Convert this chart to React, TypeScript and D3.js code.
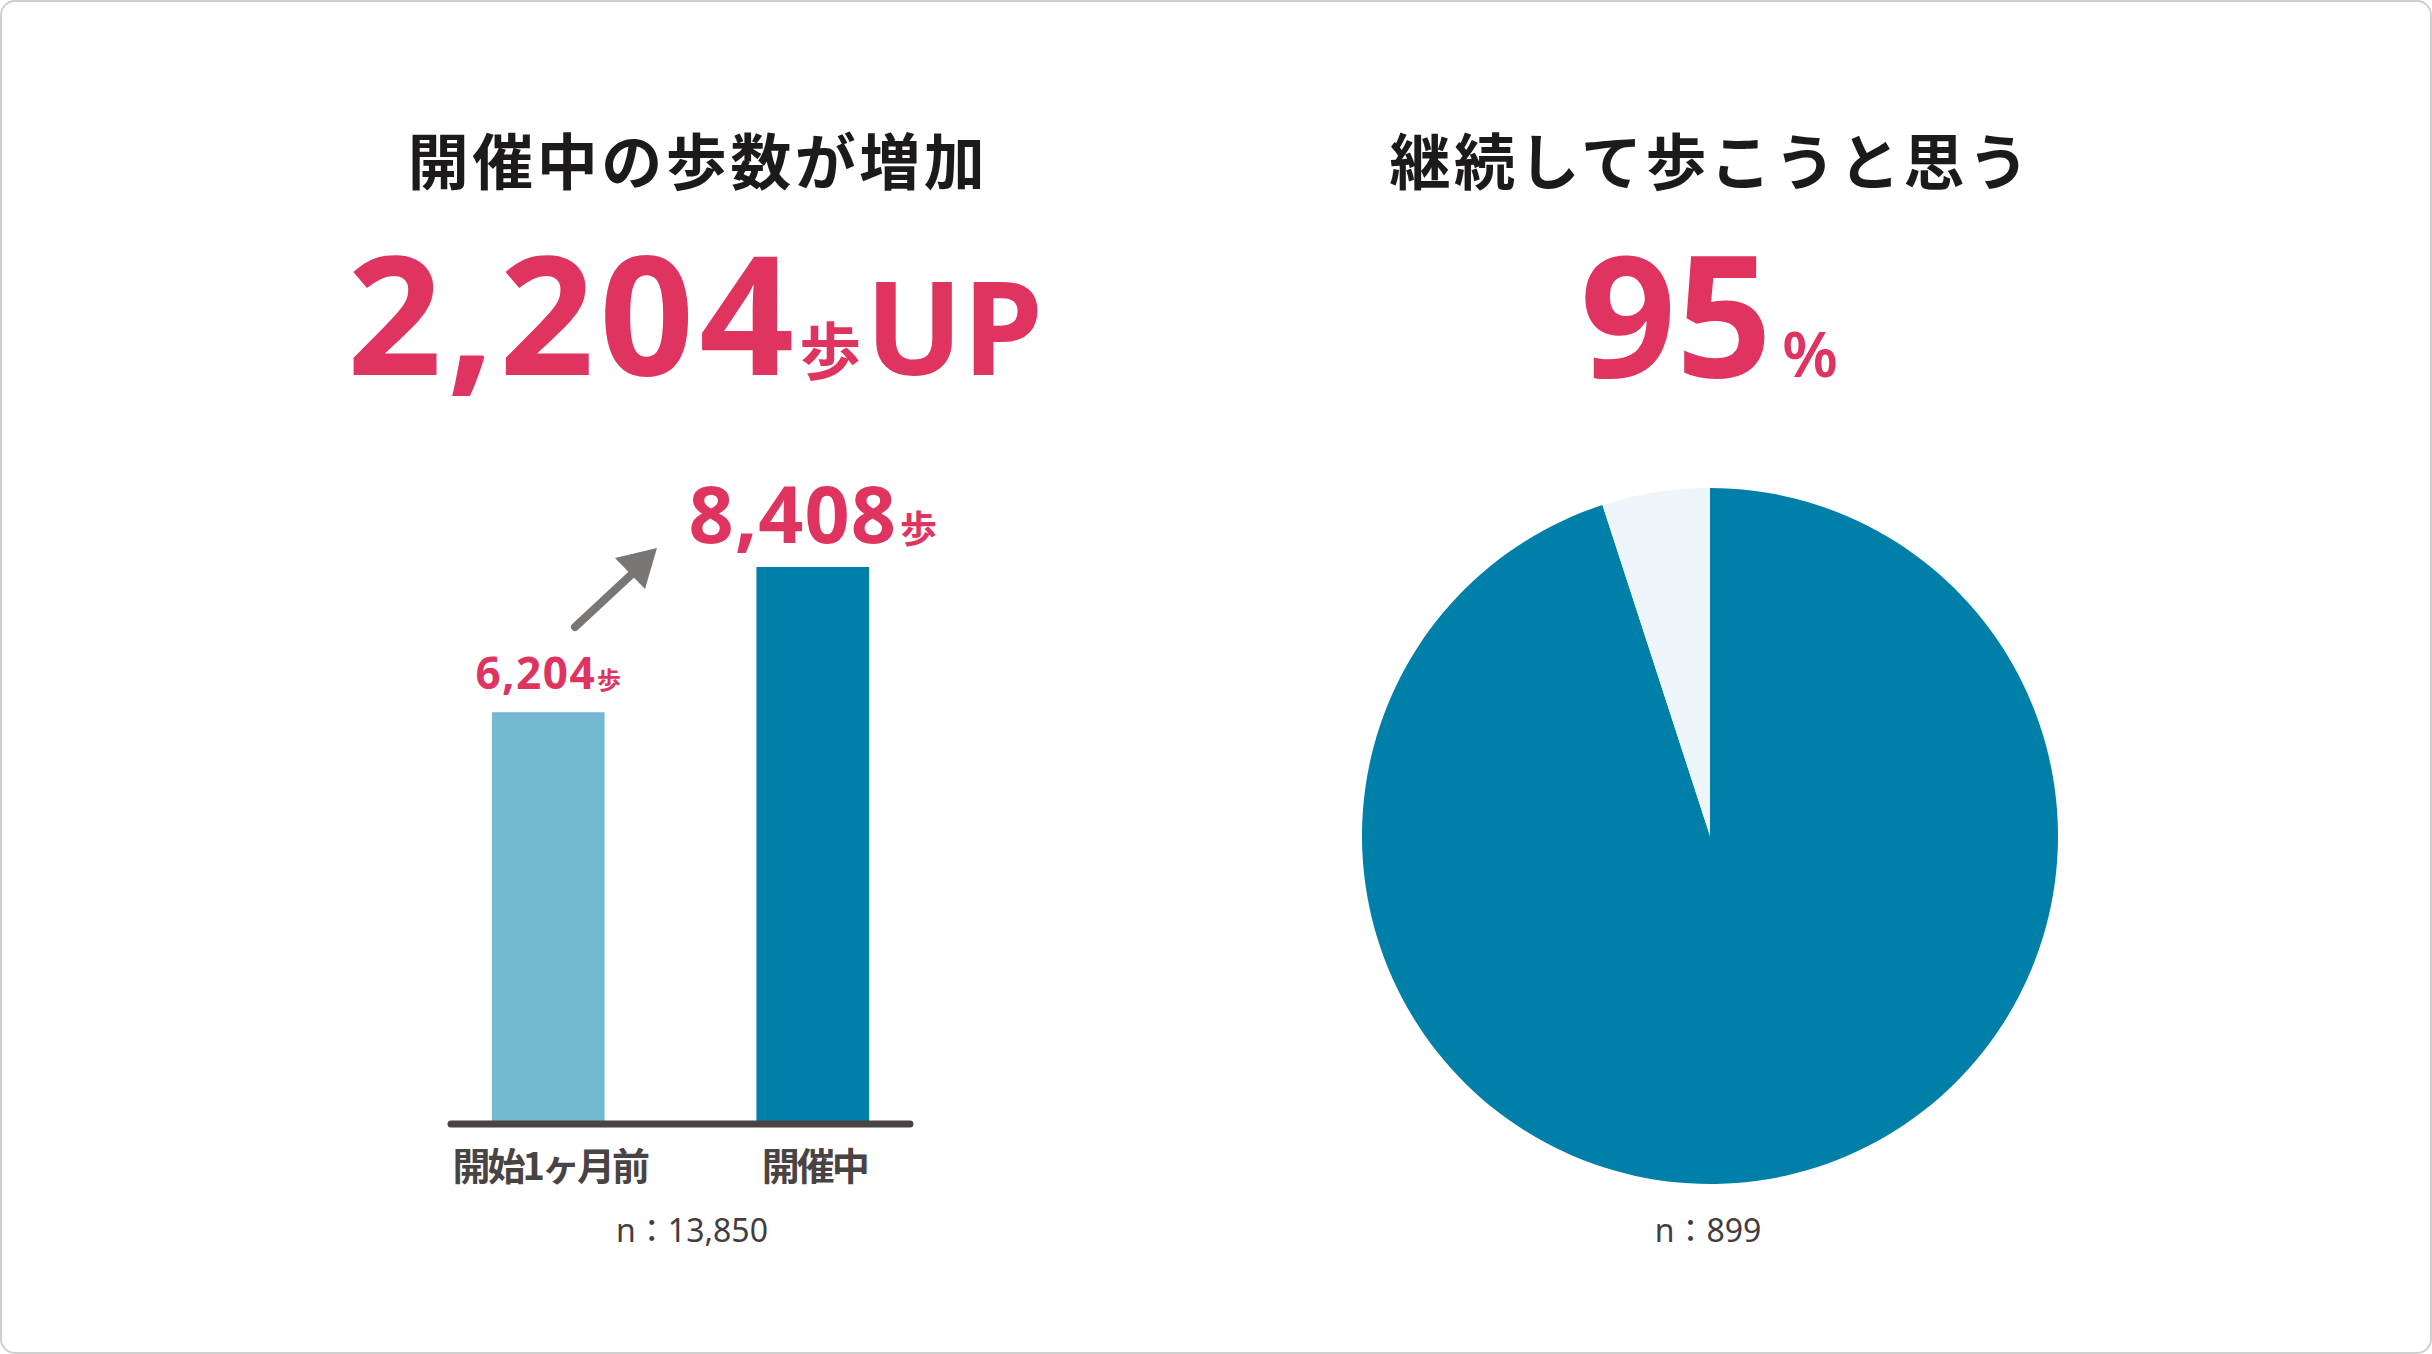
import { useEffect } from 'react'
import * as d3 from 'd3'

const W = 2432
const H = 1354

// bar chart: average steps before / during the event
const categories = ['開始1ヶ月前', '開催中']
const steps = [6204, 8408]
const barSampleLabel = 'n：13,850'

// pie chart: will keep walking
const pieLabels = ['継続して歩こうと思う', 'そう思わない']
const pieValues = [95, 5]
const pieSampleLabel = 'n：899'

const PINK = '#e03460'
const DARK = '#0080a9'
const LIGHT = '#74b8d1'
const PALE = '#eef6fb'
const INK = '#1c1a1a'
const AXIS = '#4a4343'
const GREY_TEXT = '#433d3d'
const JP = '"Noto Sans CJK JP", "Noto Sans", sans-serif'
const LATIN = '"Noto Sans", "Noto Sans CJK JP", sans-serif'

export default function App() {
  useEffect(() => {
    document.body.style.margin = '0'
  }, [])

  const x = d3
    .scaleBand<string>()
    .domain(categories)
    .range([448, 913])
    .paddingInner(0.574)
    .paddingOuter(0.166)

  const y = d3.scaleLinear().domain([0, 8408]).range([1121, 567])

  const pie = d3.pie<number>().sort(null).value((d: number) => d)
  const slices = pie(pieValues)
  const arc = d3.arc<d3.PieArcDatum<number>>().innerRadius(0).outerRadius(348)
  const pieFill = [DARK, PALE]
  const pcx = 1710
  const pcy = 836

  const fmt = d3.format(',')
  const leftCx = 696
  const rightCx = 1709
  const cx = (c: string) => (x(c) ?? 0) + x.bandwidth() / 2

  return (
    <svg width={W} height={H} style={{ display: 'block' }}>
      <rect x={1} y={1} width={W - 2} height={H - 2} rx={14} fill="#fff" stroke="#cfcfcf" strokeWidth={2} />

      {/* left headline */}
      <text
        x={leftCx + 2}
        y={185}
        textAnchor="middle"
        fontFamily={JP}
        fontWeight={700}
        fontSize={61}
        letterSpacing={3.5}
        fill={INK}
      >
        開催中の歩数が増加
      </text>
      <text x={695} y={375} textAnchor="middle" fontFamily={LATIN} fontWeight={700} fill={PINK}>
        <tspan fontSize={166} letterSpacing={5}>{fmt(steps[1] - steps[0])}</tspan>
        <tspan fontSize={62} fontFamily={JP} dx={0}>歩</tspan>
        <tspan fontSize={129} dx={4}>UP</tspan>
      </text>

      {/* bars */}
      {categories.map((c, i) => (
        <rect key={c} x={x(c)} y={y(steps[i])} width={x.bandwidth()} height={y(0) - y(steps[i])} fill={i === 0 ? LIGHT : DARK} />
      ))}
      {categories.map((c, i) => {
        const big = i === 1
        return (
          <text
            key={c + '-v'}
            x={cx(c)}
            y={y(steps[i]) - (big ? 24 : 23)}
            textAnchor="middle"
            fontFamily={LATIN}
            fontWeight={700}
            fill={PINK}
          >
            <tspan fontSize={big ? 79 : 44} letterSpacing={big ? 1 : 1.5}>{fmt(steps[i])}</tspan>
            <tspan fontSize={big ? 37 : 24} fontFamily={JP} dx={big ? 3 : 1}>歩</tspan>
          </text>
        )
      })}

      {/* arrow */}
      <line x1={575} y1={627} x2={632} y2={574} stroke="#7a7674" strokeWidth={8} strokeLinecap="round" />
      <polygon points="615,558 657,548 645,589" fill="#7a7674" />

      {/* axis baseline */}
      <line x1={451} y1={1124} x2={910} y2={1124} stroke={AXIS} strokeWidth={7} strokeLinecap="round" />

      {categories.map((c) => (
        <text
          key={c + '-l'}
          x={cx(c) + 1.5}
          y={1180}
          textAnchor="middle"
          fontFamily={JP}
          fontWeight={700}
          fontSize={38}
          letterSpacing={-3}
          fill={AXIS}
        >
          {c}
        </text>
      ))}
      <text x={692} y={1242} textAnchor="middle" fontFamily={LATIN} fontSize={32} fill={GREY_TEXT}>
        {barSampleLabel}
      </text>

      {/* right headline */}
      <text
        x={rightCx + 2}
        y={185}
        textAnchor="middle"
        fontFamily={JP}
        fontWeight={700}
        fontSize={61}
        letterSpacing={3.5}
        fill={INK}
      >
        {pieLabels[0]}
      </text>
      <text x={rightCx} y={377} textAnchor="middle" fontFamily={LATIN} fill={PINK}>
        <tspan fontSize={168} fontWeight={700}>{pieValues[0]}</tspan>
        <tspan fontSize={64} fontWeight={600} dx={10}>%</tspan>
      </text>

      {/* pie */}
      <g transform={`translate(${pcx},${pcy})`}>
        {slices.map((s, i) => (
          <path key={pieLabels[i]} d={arc(s) ?? undefined} fill={pieFill[i]}>
            <title>{`${pieLabels[i]} ${pieValues[i]}%`}</title>
          </path>
        ))}
      </g>
      <text x={1708} y={1242} textAnchor="middle" fontFamily={LATIN} fontSize={32} fill={GREY_TEXT}>
        {pieSampleLabel}
      </text>
    </svg>
  )
}
